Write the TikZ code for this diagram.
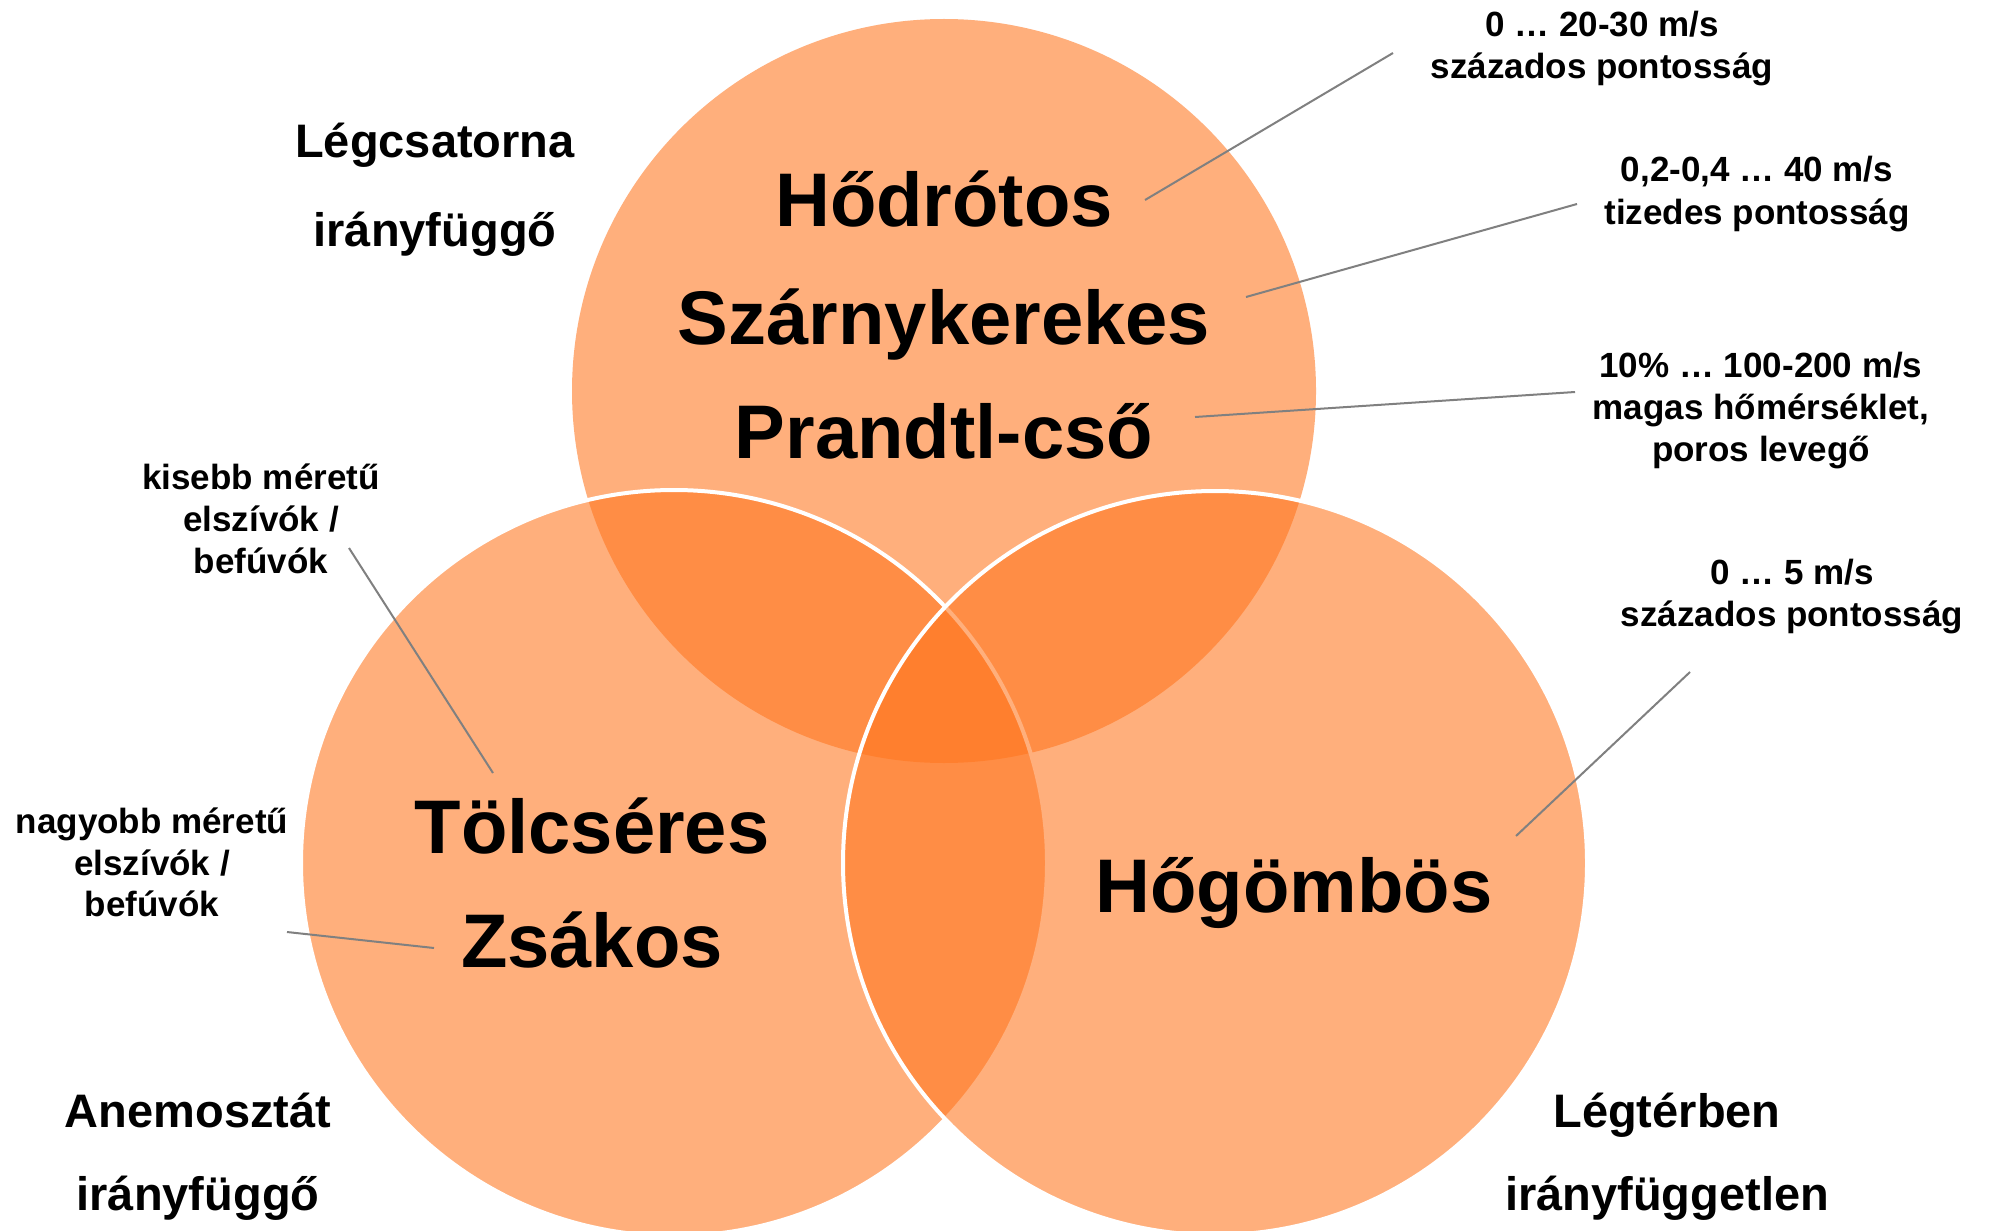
\documentclass[tikz,border=0pt]{standalone}
\usepackage{fontspec}
\setmainfont{Liberation Sans}
\definecolor{vennorange}{RGB}{255,118,30}
\definecolor{leadgray}{RGB}{128,128,128}
\begin{document}
\begin{tikzpicture}[x=0.5pt,y=-0.5pt,
  vc/.style={fill=vennorange, fill opacity=0.58},
  vcline/.style={draw=white, line width=2pt},
  bigtxt/.style={font=\fontsize{38}{46}\selectfont\bfseries, anchor=base, inner sep=0pt},
  midtxt/.style={font=\fontsize{23.5}{28}\selectfont\bfseries, anchor=base, inner sep=0pt},
  smalltxt/.style={font=\fontsize{17.5}{21}\selectfont\bfseries, anchor=base, inner sep=0pt},
  lead/.style={draw=leadgray, line width=1pt}]
\useasboundingbox (0,0) rectangle (1989,1230);
\clip (0,0) rectangle (1989,1230);
\fill[white] (0,0) rectangle (1989,1230);
% circles
\path[vc] (944,391) circle[radius=186pt];
\path[vc, vcline] (674,863) circle[radius=186.5pt];
\path[vc, vcline] (1215,863) circle[radius=186pt];
% main texts
\node[bigtxt] (hodrotos) at (944,227) {Hődrótos};
\node[bigtxt] (szarny) at (944,344) {Szárnykerekes};
\node[bigtxt] (prandtl) at (944,458) {Prandtl-cső};
\node[bigtxt] (tolcseres) at (592,853) {Tölcséres};
\node[bigtxt] (zsakos) at (592,967) {Zsákos};
\node[bigtxt] (hogombos) at (1294,912) {Hőgömbös};
% category labels
\node[midtxt] (legcs) at (435,158) {Légcsatorna};
\node[midtxt] (legcsb) at (435,246) {irányfüggő};
\node[midtxt] (anemo) at (198,1127) {Anemosztát};
\node[midtxt] (anemob) at (198,1210) {irányfüggő};
\node[midtxt] (legter) at (1667,1127) {Légtérben};
\node[midtxt] (legterb) at (1667,1210) {irányfüggetlen};
% annotations
\node[smalltxt] (a1a) at (1602,37) {0 … 20-30 m/s};
\node[smalltxt] (a1b) at (1602,79) {százados pontosság};
\node[smalltxt] (a2a) at (1757,182) {0,2-0,4 … 40 m/s};
\node[smalltxt] (a2b) at (1757,225) {tizedes pontosság};
\node[smalltxt] (a3a) at (1761,377) {10\% … 100-200 m/s};
\node[smalltxt] (a3b) at (1761,419) {magas hőmérséklet,};
\node[smalltxt] (a3c) at (1761,461) {poros levegő};
\node[smalltxt] (a4a) at (261,489) {kisebb méretű};
\node[smalltxt] (a4b) at (261,531) {elszívók /};
\node[smalltxt] (a4c) at (261,573) {befúvók};
\node[smalltxt] (a5a) at (152,833) {nagyobb méretű};
\node[smalltxt] (a5b) at (152,875) {elszívók /};
\node[smalltxt] (a5c) at (152,916) {befúvók};
\node[smalltxt] (a6a) at (1792,584) {0 … 5 m/s};
\node[smalltxt] (a6b) at (1792,626) {százados pontosság};
% leader line ends
\coordinate (l1s) at (1145,200); \coordinate (l1e) at (1393,53);
\coordinate (l2s) at (1246,297); \coordinate (l2e) at (1577,204);
\coordinate (l3s) at (1195,417); \coordinate (l3e) at (1575,392);
\coordinate (l4s) at (493,773);  \coordinate (l4e) at (349,548);
\coordinate (l5s) at (434,948);  \coordinate (l5e) at (287,932);
\coordinate (l6s) at (1516,836); \coordinate (l6e) at (1690,672);
\draw[lead] (l1s) -- (l1e);
\draw[lead] (l2s) -- (l2e);
\draw[lead] (l3s) -- (l3e);
\draw[lead] (l4s) -- (l4e);
\draw[lead] (l5s) -- (l5e);
\draw[lead] (l6s) -- (l6e);
\end{tikzpicture}
\end{document}
